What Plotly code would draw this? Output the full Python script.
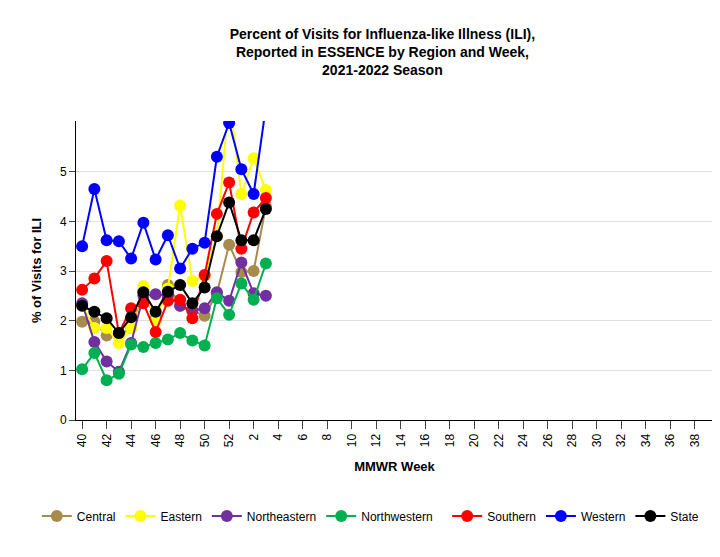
import plotly.graph_objects as go

weeks = [str(w) for w in list(range(40, 53)) + list(range(1, 40))]
data_weeks = weeks[:16]
tick_labels = [w for i, w in enumerate(weeks) if i % 2 == 0]

central = [1.98, 1.98, 1.7, 1.7, 1.85, 2.6, 2.05, 2.72, 2.3, 2.2, 2.1, 2.55, 3.53, 2.98, 3.0, 4.3]
eastern = [2.3, 1.85, 1.85, 1.55, 1.85, 2.7, 2.0, 2.65, 4.32, 2.8, 2.9, 3.7, 6.5, 4.55, 5.27, 4.63]
northeastern = [2.35, 1.57, 1.18, 0.97, 1.55, 2.5, 2.53, 2.5, 2.3, 2.2, 2.25, 2.57, 2.4, 3.17, 2.55, 2.5]
northwestern = [1.02, 1.35, 0.8, 0.93, 1.52, 1.47, 1.55, 1.62, 1.75, 1.6, 1.5, 2.45, 2.12, 2.75, 2.42, 3.15]
southern = [2.62, 2.85, 3.2, 1.75, 2.25, 2.35, 1.77, 2.4, 2.42, 2.05, 2.92, 4.15, 4.78, 3.45, 4.18, 4.47]
western = [3.5, 4.65, 3.62, 3.6, 3.25, 3.97, 3.23, 3.72, 3.05, 3.45, 3.57, 5.3, 5.98, 5.05, 4.55, 6.3]
state = [2.3, 2.18, 2.05, 1.75, 2.07, 2.57, 2.18, 2.58, 2.72, 2.35, 2.67, 3.7, 4.38, 3.62, 3.62, 4.25]

series = [
    ("Central", central, "#a88b4c", "legend"),
    ("Eastern", eastern, "#ffff00", "legend"),
    ("Northeastern", northeastern, "#7030a0", "legend"),
    ("Northwestern", northwestern, "#00b050", "legend"),
    ("Southern", southern, "#ff0000", "legend2"),
    ("Western", western, "#0000ff", "legend2"),
    ("State", state, "#000000", "legend2"),
]

fig = go.Figure()
for name, vals, col, leg in series:
    fig.add_trace(go.Scatter(x=data_weeks, y=vals, name=name, mode="lines+markers",
                             line=dict(color=col, width=2),
                             marker=dict(color=col, size=12), legend=leg))

leg_common = dict(orientation="h", xref="container", xanchor="left",
                  yref="container", y=0.088, yanchor="middle",
                  font=dict(size=12), itemwidth=30)
fig.update_layout(
    width=720, height=557,
    paper_bgcolor="white", plot_bgcolor="white",
    font=dict(family="Liberation Sans, Arial", size=12, color="black"),
    title=dict(text="<b>Percent of Visits for Influenza-like Illness (ILI),<br>Reported in ESSENCE by Region and Week,<br>2021-2022 Season</b>",
               x=0.52, y=0.945, xanchor="center", font=dict(size=14)),
    margin=dict(l=68, r=15, t=113, b=145),
    legend=dict(x=0.04, **leg_common),
    legend2=dict(x=0.61, **leg_common),
)
fig.update_xaxes(type="category", categoryorder="array", categoryarray=weeks,
                 range=[-0.5, len(weeks) - 0.5],
                 tickmode="array", tickvals=tick_labels, ticktext=tick_labels,
                 tickangle=-90, ticks="outside", ticklen=8, showline=True, linecolor="black",
                 showgrid=False, title=dict(text="<b>MMWR Week</b>", font=dict(size=13)))
fig.update_yaxes(range=[0, 6.02], tickvals=[0, 1, 2, 3, 4, 5], ticks="outside", ticklen=6,
                 showline=True, linecolor="black", gridcolor="#e0e0e0", zeroline=False,
                 title=dict(text="<b>% of Visits for ILI</b>", font=dict(size=13)))
fig.write_html("out.html")
